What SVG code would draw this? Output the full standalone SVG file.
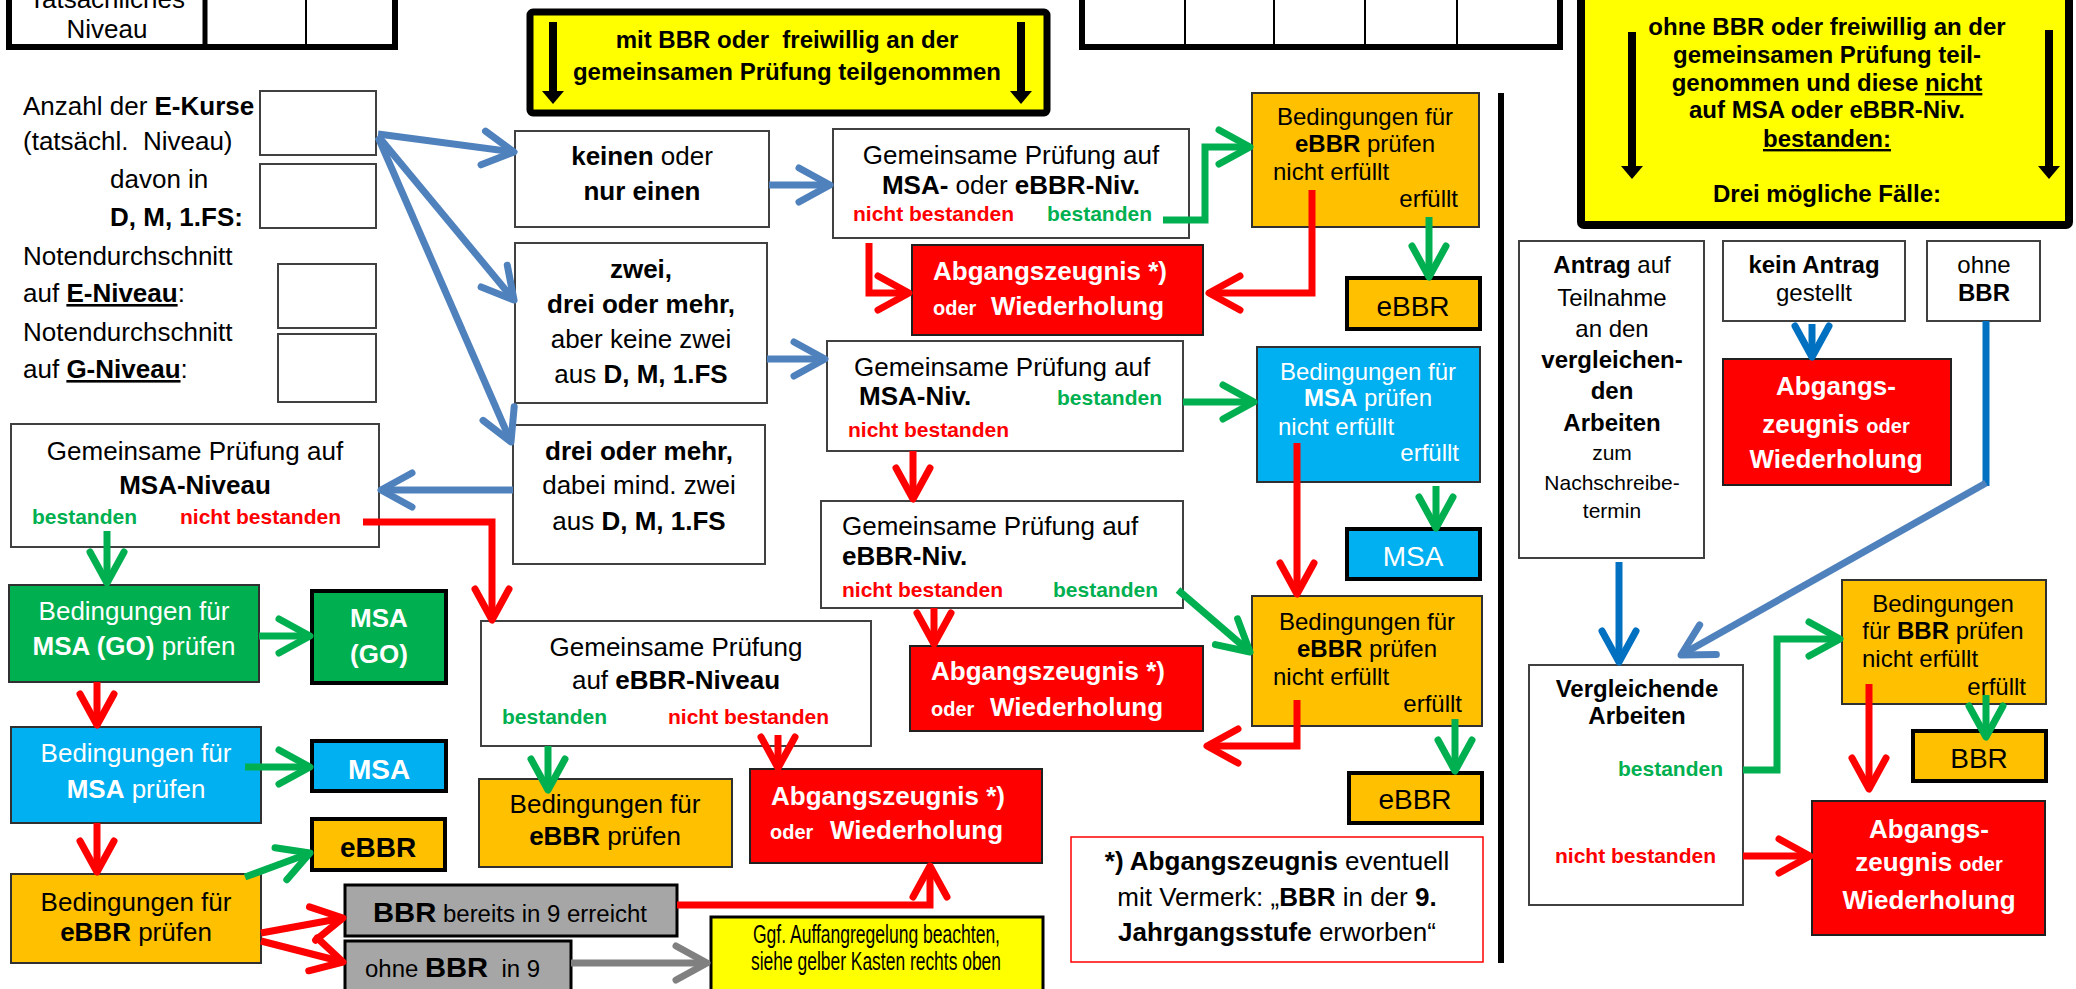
<svg xmlns="http://www.w3.org/2000/svg" width="2076" height="989" viewBox="0 0 2076 989">
<style>
text{font-family:"Liberation Sans",Arial,sans-serif;font-size:26px;fill:#000}
.b{font-weight:bold}
.m{text-anchor:middle}
.e{text-anchor:end}
.s24{font-size:24px}
.s21{font-size:21px}
.s20{font-size:20px}
.s28{font-size:28px}
.w{fill:#fff}
.nb{font-size:21px;font-weight:bold;fill:#FF0000}
.bs{font-size:21px;font-weight:bold;fill:#00B050}
.nar{font-family:"Liberation Sans Narrow","Liberation Sans",Arial,sans-serif}
.wb{fill:#fff;stroke:#404040;stroke-width:2}
.rb{fill:#FF0000;stroke:#202020;stroke-width:2}
.ob{fill:#FFC000;stroke:#303030;stroke-width:2}
.cb{fill:#00B0F0;stroke:#303030;stroke-width:2}
.gb{fill:#00B050;stroke:#303030;stroke-width:2}
.res{stroke:#000;stroke-width:4}
.gr{fill:#A6A6A6;stroke:#000;stroke-width:3}
.c{fill:none;stroke-width:7;stroke-linejoin:miter}
.cR{stroke:#FF0000;marker-end:url(#mR)}
.cG{stroke:#00B050;marker-end:url(#mG)}
.cB{stroke:#4F81BD;marker-end:url(#mB)}
.cD{stroke:#0070C0;marker-end:url(#mD)}
.cGr{stroke:#808080;marker-end:url(#mGr)}
.ul{text-decoration:underline}
</style>
<defs>
<marker id="mR" markerUnits="userSpaceOnUse" viewBox="-40 -22 46 44" refX="0" refY="0" markerWidth="46" markerHeight="44" orient="auto" overflow="visible"><path d="M-31,-17 L0,0 L-31,17" fill="none" stroke="#FF0000" stroke-width="7" stroke-linecap="round" stroke-linejoin="round"/></marker>
<marker id="mG" markerUnits="userSpaceOnUse" viewBox="-40 -22 46 44" refX="0" refY="0" markerWidth="46" markerHeight="44" orient="auto" overflow="visible"><path d="M-31,-17 L0,0 L-31,17" fill="none" stroke="#00B050" stroke-width="7" stroke-linecap="round" stroke-linejoin="round"/></marker>
<marker id="mB" markerUnits="userSpaceOnUse" viewBox="-40 -22 46 44" refX="0" refY="0" markerWidth="46" markerHeight="44" orient="auto" overflow="visible"><path d="M-31,-17 L0,0 L-31,17" fill="none" stroke="#4F81BD" stroke-width="7" stroke-linecap="round" stroke-linejoin="round"/></marker>
<marker id="mD" markerUnits="userSpaceOnUse" viewBox="-40 -22 46 44" refX="0" refY="0" markerWidth="46" markerHeight="44" orient="auto" overflow="visible"><path d="M-31,-17 L0,0 L-31,17" fill="none" stroke="#0070C0" stroke-width="7" stroke-linecap="round" stroke-linejoin="round"/></marker>
<marker id="mGr" markerUnits="userSpaceOnUse" viewBox="-40 -22 46 44" refX="0" refY="0" markerWidth="46" markerHeight="44" orient="auto" overflow="visible"><path d="M-31,-17 L0,0 L-31,17" fill="none" stroke="#808080" stroke-width="7" stroke-linecap="round" stroke-linejoin="round"/></marker>
</defs>
<rect width="2076" height="989" fill="#fff"/>

<g id="table-left">
<rect x="9" y="-10" width="386" height="57" fill="#fff" stroke="#000" stroke-width="6"/>
<line x1="205" y1="0" x2="205" y2="44" stroke="#000" stroke-width="5"/>
<line x1="306" y1="0" x2="306" y2="44" stroke="#000" stroke-width="2"/>
<text x="107" y="8" class="m">Tatsächliches</text>
<text x="107" y="38" class="m">Niveau</text>
</g>

<g id="table-right">
<rect x="1082" y="-10" width="478" height="57" fill="#fff" stroke="#000" stroke-width="6"/>
<line x1="1185" y1="0" x2="1185" y2="44" stroke="#000" stroke-width="2"/>
<line x1="1274" y1="0" x2="1274" y2="44" stroke="#000" stroke-width="2"/>
<line x1="1365" y1="0" x2="1365" y2="44" stroke="#000" stroke-width="2"/>
<line x1="1457" y1="0" x2="1457" y2="44" stroke="#000" stroke-width="2"/>
</g>

<g id="yellow-mit-bbr">
<rect x="530" y="12" width="517" height="101" rx="3" fill="#FFFF00" stroke="#000" stroke-width="7"/>
<line x1="553" y1="22" x2="553" y2="92" stroke="#000" stroke-width="8"/>
<polygon points="542,91 564,91 553,104" fill="#000"/>
<line x1="1021" y1="22" x2="1021" y2="92" stroke="#000" stroke-width="8"/>
<polygon points="1010,91 1032,91 1021,104" fill="#000"/>
<text x="787" y="48" class="m b s24" xml:space="preserve">mit BBR oder  freiwillig an der</text>
<text x="787" y="80" class="m b s24">gemeinsamen Prüfung teilgenommen</text>
</g>

<g id="yellow-ohne-bbr">
<rect x="1581" y="-10" width="488" height="235" rx="3" fill="#FFFF00" stroke="#000" stroke-width="8"/>
<line x1="1632" y1="32" x2="1632" y2="167" stroke="#000" stroke-width="8"/>
<polygon points="1621,166 1643,166 1632,179" fill="#000"/>
<line x1="2049" y1="30" x2="2049" y2="167" stroke="#000" stroke-width="8"/>
<polygon points="2038,166 2060,166 2049,179" fill="#000"/>
<text x="1827" y="35" class="m b s24">ohne BBR oder freiwillig an der</text>
<text x="1827" y="63" class="m b s24">gemeinsamen Prüfung teil-</text>
<text x="1827" y="91" class="m b s24">genommen und diese <tspan class="ul">nicht</tspan></text>
<text x="1827" y="118" class="m b s24">auf MSA oder eBBR-Niv.</text>
<text x="1827" y="147" class="m b s24"><tspan class="ul">bestanden:</tspan></text>
<text x="1827" y="202" class="m b s24">Drei mögliche Fälle:</text>
</g>

<g id="input-labels">
<text x="23" y="115">Anzahl der <tspan class="b">E-Kurse</tspan></text>
<text x="23" y="150" xml:space="preserve">(tatsächl.  Niveau)</text>
<text x="110" y="188">davon in</text>
<text x="110" y="226" class="b">D, M, 1.FS:</text>
<text x="23" y="265">Notendurchschnitt</text>
<text x="23" y="302">auf <tspan class="b ul">E-Niveau</tspan>:</text>
<text x="23" y="341">Notendurchschnitt</text>
<text x="23" y="378">auf <tspan class="b ul">G-Niveau</tspan>:</text>
<rect x="260" y="91" width="116" height="64" class="wb"/>
<rect x="260" y="164" width="116" height="64" class="wb"/>
<rect x="278" y="264" width="98" height="64" class="wb"/>
<rect x="278" y="334" width="98" height="68" class="wb"/>
</g>

<g id="keinen">
<rect x="515" y="131" width="254" height="96" class="wb"/>
<text x="642" y="165" class="m"><tspan class="b">keinen</tspan> oder</text>
<text x="642" y="200" class="m b">nur einen</text>
</g>

<g id="zwei">
<rect x="515" y="243" width="252" height="160" class="wb"/>
<text x="641" y="278" class="m b">zwei,</text>
<text x="641" y="313" class="m b">drei oder mehr,</text>
<text x="641" y="348" class="m">aber keine zwei</text>
<text x="641" y="383" class="m">aus <tspan class="b">D, M, 1.FS</tspan></text>
</g>

<g id="drei">
<rect x="513" y="425" width="252" height="139" class="wb"/>
<text x="639" y="460" class="m b">drei oder mehr,</text>
<text x="639" y="494" class="m">dabei mind. zwei</text>
<text x="639" y="530" class="m">aus <tspan class="b">D, M, 1.FS</tspan></text>
</g>

<g id="gem1">
<rect x="833" y="129" width="356" height="109" class="wb"/>
<text x="1011" y="164" class="m">Gemeinsame Prüfung auf</text>
<text x="1011" y="194" class="m"><tspan class="b">MSA-</tspan> oder <tspan class="b">eBBR-Niv.</tspan></text>
<text x="853" y="221" class="nb">nicht bestanden</text>
<text x="1047" y="221" class="bs">bestanden</text>
</g>

<g id="gem2">
<rect x="827" y="341" width="356" height="110" class="wb"/>
<text x="854" y="376">Gemeinsame Prüfung auf</text>
<text x="859" y="405" class="b">MSA-Niv.</text>
<text x="1057" y="405" class="bs">bestanden</text>
<text x="848" y="437" class="nb">nicht bestanden</text>
</g>

<g id="gem3">
<rect x="821" y="501" width="362" height="107" class="wb"/>
<text x="842" y="535">Gemeinsame Prüfung auf</text>
<text x="842" y="565" class="b">eBBR-Niv.</text>
<text x="842" y="597" class="nb">nicht bestanden</text>
<text x="1053" y="597" class="bs">bestanden</text>
</g>

<g id="gem-msa-left">
<rect x="11" y="424" width="368" height="123" class="wb"/>
<text x="195" y="460" class="m">Gemeinsame Prüfung auf</text>
<text x="195" y="494" class="m b">MSA-Niveau</text>
<text x="32" y="524" class="bs">bestanden</text>
<text x="180" y="524" class="nb">nicht bestanden</text>
</g>

<g id="gem-ebbr">
<rect x="481" y="621" width="390" height="125" class="wb"/>
<text x="676" y="656" class="m">Gemeinsame Prüfung</text>
<text x="676" y="689" class="m">auf <tspan class="b">eBBR-Niveau</tspan></text>
<text x="502" y="724" class="bs">bestanden</text>
<text x="668" y="724" class="nb">nicht bestanden</text>
</g>

<g id="red1">
<rect x="912" y="245" width="291" height="90" class="rb"/>
<text x="933" y="280" class="b w">Abgangszeugnis *)</text>
<text x="933" y="315" class="b w s20">oder</text>
<text x="991" y="315" class="b w">Wiederholung</text>
</g>

<g id="red2">
<rect x="910" y="646" width="293" height="85" class="rb"/>
<text x="931" y="680" class="b w">Abgangszeugnis *)</text>
<text x="931" y="716" class="b w s20">oder</text>
<text x="990" y="716" class="b w">Wiederholung</text>
</g>

<g id="red3">
<rect x="750" y="769" width="292" height="94" class="rb"/>
<text x="771" y="805" class="b w">Abgangszeugnis *)</text>
<text x="770" y="839" class="b w s20">oder</text>
<text x="830" y="839" class="b w">Wiederholung</text>
</g>

<g id="ora1">
<rect x="1252" y="93" width="227" height="134" class="ob"/>
<text x="1365" y="125" class="m s24">Bedingungen für</text>
<text x="1365" y="152" class="m s24"><tspan class="b">eBBR</tspan> prüfen</text>
<text x="1273" y="180" class="s24">nicht erfüllt</text>
<text x="1458" y="207" class="e s24">erfüllt</text>
</g>

<g id="ebbr1">
<rect x="1347" y="278" width="133" height="51" fill="#FFC000" class="res"/>
<text x="1413" y="316" class="m s28">eBBR</text>
</g>

<g id="blue-r">
<rect x="1257" y="347" width="223" height="135" class="cb"/>
<text x="1368" y="380" class="m s24 w">Bedingungen für</text>
<text x="1368" y="406" class="m s24 w"><tspan class="b">MSA</tspan> prüfen</text>
<text x="1278" y="435" class="s24 w">nicht erfüllt</text>
<text x="1459" y="461" class="e s24 w">erfüllt</text>
</g>

<g id="msa-r">
<rect x="1347" y="529" width="133" height="50" fill="#00B0F0" class="res"/>
<text x="1413" y="566" class="m s28 w">MSA</text>
</g>

<g id="ora2">
<rect x="1252" y="596" width="230" height="130" class="ob"/>
<text x="1367" y="630" class="m s24">Bedingungen für</text>
<text x="1367" y="657" class="m s24"><tspan class="b">eBBR</tspan> prüfen</text>
<text x="1273" y="685" class="s24">nicht erfüllt</text>
<text x="1462" y="712" class="e s24">erfüllt</text>
</g>

<g id="ebbr2">
<rect x="1349" y="773" width="133" height="50" fill="#FFC000" class="res"/>
<text x="1415" y="809" class="m s28">eBBR</text>
</g>

<g id="green-l">
<rect x="9" y="585" width="250" height="97" class="gb"/>
<text x="134" y="620" class="m w">Bedingungen für</text>
<text x="134" y="655" class="m w"><tspan class="b">MSA (GO)</tspan> prüfen</text>
</g>

<g id="msago">
<rect x="312" y="591" width="134" height="92" fill="#00B050" class="res"/>
<text x="379" y="627" class="m b w">MSA</text>
<text x="379" y="663" class="m b w">(GO)</text>
</g>

<g id="blue-l">
<rect x="11" y="727" width="250" height="96" class="cb"/>
<text x="136" y="762" class="m w">Bedingungen für</text>
<text x="136" y="798" class="m w"><tspan class="b">MSA</tspan> prüfen</text>
</g>

<g id="msa-l">
<rect x="312" y="741" width="134" height="50" fill="#00B0F0" class="res"/>
<text x="379" y="779" class="m b s28 w">MSA</text>
</g>

<g id="ebbr-l">
<rect x="312" y="819" width="133" height="51" fill="#FFC000" class="res"/>
<text x="378" y="857" class="m b s28">eBBR</text>
</g>

<g id="ora-l">
<rect x="11" y="874" width="250" height="89" class="ob"/>
<text x="136" y="911" class="m">Bedingungen für</text>
<text x="136" y="941" class="m"><tspan class="b">eBBR</tspan> prüfen</text>
</g>

<g id="ora3">
<rect x="479" y="779" width="253" height="88" class="ob"/>
<text x="605" y="813" class="m">Bedingungen für</text>
<text x="605" y="845" class="m"><tspan class="b">eBBR</tspan> prüfen</text>
</g>

<g id="grey1">
<rect x="345" y="885" width="332" height="51" class="gr"/>
<text x="373" y="922" class="nar" textLength="274" lengthAdjust="spacingAndGlyphs"><tspan class="b s28">BBR</tspan><tspan font-size="23"> bereits in 9 erreicht</tspan></text>
</g>

<g id="grey2">
<rect x="345" y="941" width="226" height="60" class="gr"/>
<text x="365" y="977" class="nar" textLength="175" lengthAdjust="spacingAndGlyphs" xml:space="preserve"><tspan font-size="23">ohne </tspan><tspan class="b s28">BBR</tspan><tspan font-size="23">  in 9</tspan></text>
</g>

<g id="note">
<rect x="711" y="917" width="332" height="80" fill="#FFFF00" stroke="#000" stroke-width="3"/>
<text x="753" y="943" class="nar" font-size="18" textLength="247" lengthAdjust="spacingAndGlyphs">Ggf. Auffangregelung beachten,</text>
<text x="751" y="970" class="nar" font-size="18" textLength="250" lengthAdjust="spacingAndGlyphs">siehe gelber Kasten rechts oben</text>
</g>

<g id="footnote">
<rect x="1071" y="837" width="412" height="125" fill="#fff" stroke="#FF0000" stroke-width="1.5"/>
<text x="1277" y="870" class="m"><tspan class="b">*) Abgangszeugnis</tspan> eventuell</text>
<text x="1277" y="906" class="m">mit Vermerk: „<tspan class="b">BBR</tspan> in der <tspan class="b">9.</tspan></text>
<text x="1277" y="941" class="m"><tspan class="b">Jahrgangsstufe</tspan> erworben“</text>
</g>

<g id="divider">
<line x1="1501" y1="93" x2="1501" y2="963" stroke="#000" stroke-width="6"/>
</g>

<g id="antrag">
<rect x="1519" y="241" width="185" height="317" class="wb"/>
<text x="1612" y="273" class="m s24"><tspan class="b">Antrag</tspan> auf</text>
<text x="1612" y="306" class="m s24">Teilnahme</text>
<text x="1612" y="337" class="m s24">an den</text>
<text x="1612" y="368" class="m s24 b">vergleichen-</text>
<text x="1612" y="399" class="m s24 b">den</text>
<text x="1612" y="431" class="m s24 b">Arbeiten</text>
<text x="1612" y="460" class="m s21">zum</text>
<text x="1612" y="490" class="m s21">Nachschreibe-</text>
<text x="1612" y="518" class="m s21">termin</text>
</g>

<g id="kein-antrag">
<rect x="1723" y="241" width="182" height="80" class="wb"/>
<text x="1814" y="273" class="m s24 b">kein Antrag</text>
<text x="1814" y="301" class="m s24">gestellt</text>
</g>

<g id="ohne-bbr">
<rect x="1927" y="241" width="113" height="80" class="wb"/>
<text x="1984" y="273" class="m s24">ohne</text>
<text x="1984" y="301" class="m s24 b">BBR</text>
</g>

<g id="red-r1">
<rect x="1723" y="359" width="228" height="126" class="rb"/>
<text x="1836" y="395" class="m b w">Abgangs-</text>
<text x="1836" y="433" class="m b w">zeugnis <tspan class="s20">oder</tspan></text>
<text x="1836" y="468" class="m b w">Wiederholung</text>
</g>

<g id="vergleichende">
<rect x="1529" y="665" width="214" height="240" class="wb"/>
<text x="1637" y="697" class="m s24 b">Vergleichende</text>
<text x="1637" y="724" class="m s24 b">Arbeiten</text>
<text x="1723" y="776" class="bs" text-anchor="end">bestanden</text>
<text x="1555" y="863" class="nb">nicht bestanden</text>
</g>

<g id="ora-r">
<rect x="1842" y="580" width="204" height="124" class="ob"/>
<text x="1943" y="612" class="m s24">Bedingungen</text>
<text x="1943" y="639" class="m s24">für <tspan class="b">BBR</tspan> prüfen</text>
<text x="1862" y="667" class="s24">nicht erfüllt</text>
<text x="2026" y="695" class="e s24">erfüllt</text>
</g>

<g id="bbr-r">
<rect x="1913" y="731" width="133" height="50" fill="#FFC000" class="res"/>
<text x="1979" y="768" class="m s28">BBR</text>
</g>

<g id="red-r2">
<rect x="1812" y="801" width="233" height="134" class="rb"/>
<text x="1929" y="838" class="m b w">Abgangs-</text>
<text x="1929" y="871" class="m b w">zeugnis <tspan class="s20">oder</tspan></text>
<text x="1929" y="909" class="m b w">Wiederholung</text>
</g>

<g id="connectors">
<path class="c cB" d="M378,134 L514,152"/>
<path class="c cB" d="M378,136 L514,300"/>
<path class="c cB" d="M378,137 L511,442"/>
<path class="c cB" d="M769,185 L830,185"/>
<path class="c cB" d="M767,359 L825,359"/>
<path class="c cB" d="M513,490 L381,490"/>
<path class="c cD" d="M1619,562 L1619,662"/>
<path class="c cD" d="M1812,324 L1812,357"/>
<path class="c" stroke="#0070C0" d="M1986,321 L1986,486"/>
<path class="c cB" d="M1986,483 L1681,655"/>
<path class="c cR" d="M869,243 L869,293 L909,293"/>
<path class="c cR" d="M1312,190 L1312,293 L1209,293"/>
<path class="c cR" d="M913,451 L913,499"/>
<path class="c cR" d="M934,608 L934,644"/>
<path class="c cR" d="M1297,443 L1297,594"/>
<path class="c cR" d="M1297,700 L1297,746 L1207,746"/>
<path class="c cR" d="M363,522 L492,522 L492,620"/>
<path class="c cR" d="M778,735 L778,768"/>
<path class="c cR" d="M97,682 L97,725"/>
<path class="c cR" d="M97,823 L97,872"/>
<path class="c cR" d="M261,933 L343,918"/>
<path class="c cR" d="M261,941 L343,962"/>
<path class="c cR" d="M677,905 L930,905 L930,866"/>
<path class="c cR" d="M1743,856 L1810,856"/>
<path class="c cR" d="M1869,684 L1869,789"/>
<path class="c cG" d="M1163,220 L1205,220 L1205,147 L1250,147"/>
<path class="c cG" d="M1429,217 L1429,277"/>
<path class="c cG" d="M1183,402 L1254,402"/>
<path class="c cG" d="M1436,486 L1436,528"/>
<path class="c cG" d="M1178,590 L1250,652"/>
<path class="c cG" d="M1455,719 L1455,771"/>
<path class="c cG" d="M107,531 L107,583"/>
<path class="c cG" d="M259,636 L310,636"/>
<path class="c cG" d="M245,767 L310,767"/>
<path class="c cG" d="M245,877 L310,853"/>
<path class="c cG" d="M548,746 L548,790"/>
<path class="c cG" d="M1743,770 L1777,770 L1777,639 L1840,639"/>
<path class="c cG" d="M1986,695 L1986,737"/>
<path class="c cGr" d="M571,963 L707,963"/>
</g>
</svg>
